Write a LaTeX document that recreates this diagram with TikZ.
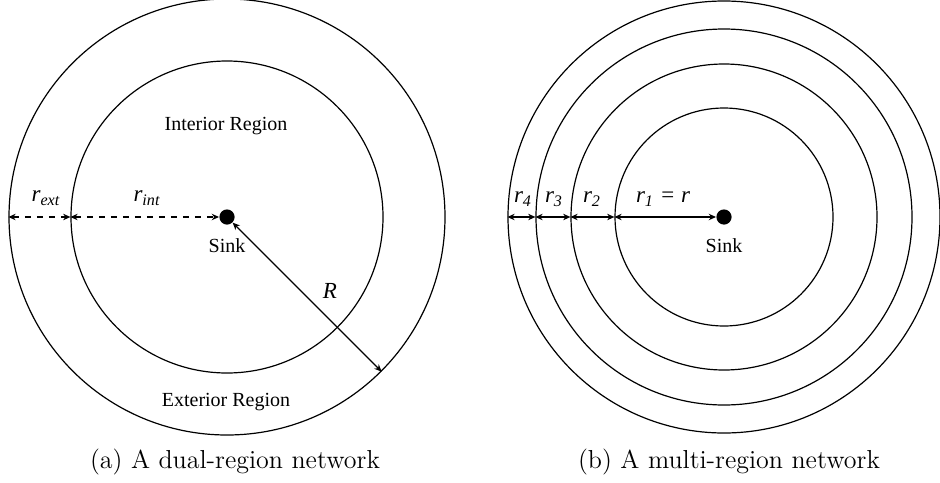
\documentclass[tikz,border=0pt]{standalone}
\usepackage{fontspec}
\newfontfamily\tnr{Liberation Serif}
\newfontfamily\tnri{Liberation Serif Italic}
\usetikzlibrary{arrows.meta}
\tikzset{
  ring/.style={circle, draw, line width=0.6pt, inner sep=0pt},
  sinkdot/.style={circle, fill=black, inner sep=0pt, minimum size=7.6pt},
  lbl/.style={font=\tnr\fontsize{10}{12}\selectfont, inner sep=0pt},
  rlbl/.style={font=\tnri\fontsize{11.5}{13}\selectfont, inner sep=0pt},
  dim/.style={line width=0.6pt, {Stealth[length=3.6pt,width=3.2pt]}-{Stealth[length=3.6pt,width=3.2pt]}},
  capt/.style={font=\fontsize{13}{15}\selectfont, anchor=base, inner sep=0pt}
}
\begin{document}
\begin{tikzpicture}[x=0.5pt,y=-0.5pt]
\useasboundingbox (0,0) rectangle (940,482);
% (a) dual-region
\node[ring, minimum size=218pt] (outerA) at (227,217) {};
\node[ring, minimum size=156pt] (innerA) at (227,217) {};
\node[sinkdot] (sinkA) at (227,217) {};
\node[lbl] (intA) at (226,126) {Interior Region};
\node[lbl] (extA) at (226,402) {Exterior Region};
\node[lbl] (sinkAl) at (227,246) {Sink};
\node[rlbl] (rext) at (46,198) {r\textsubscript{ext}};
\node[rlbl] (rint) at (147,198) {r\textsubscript{int}};
\node[rlbl] (Rl) at (330,291) {R};
\draw[dim, dashed] (outerA.west) -- (innerA.west);
\draw[dim, dashed] (innerA.west) -- (sinkA.west);
\draw[dim] (sinkA.-45) -- (outerA.-45);
\node[capt] (capA) at (235,468) {(a) A dual-region network};
% (b) multi-region
\node[ring, minimum size=216pt] (c4) at (724,217) {};
\node[ring, minimum size=188pt] (c3) at (724,217) {};
\node[ring, minimum size=153pt] (c2) at (724,217) {};
\node[ring, minimum size=109pt] (c1) at (724,217) {};
\node[sinkdot] (sinkB) at (724,217) {};
\node[lbl] (sinkBl) at (724,246) {Sink};
\node[rlbl] (r4) at (523,199) {r\textsubscript{4}};
\node[rlbl] (r3) at (554,199) {r\textsubscript{3}};
\node[rlbl] (r2) at (592,199) {r\textsubscript{2}};
\node[rlbl] (r1) at (663,199) {r\textsubscript{1} = r};
\draw[dim] (c4.west) -- (c3.west);
\draw[dim] (c3.west) -- (c2.west);
\draw[dim] (c2.west) -- (c1.west);
\draw[dim] (c1.west) -- (sinkB.west);
\node[capt] (capB) at (729,468) {(b) A multi-region network};
\end{tikzpicture}
\end{document}
